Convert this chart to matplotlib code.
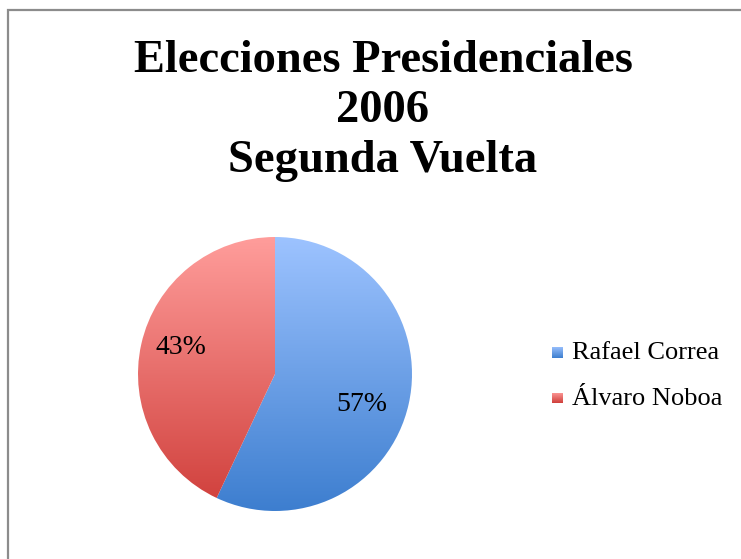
import numpy as np
import matplotlib
matplotlib.use("Agg")
import matplotlib.pyplot as plt
from matplotlib.colors import LinearSegmentedColormap
from matplotlib.patches import Rectangle

title = "Elecciones Presidenciales\n2006\nSegunda Vuelta"
labels = ["Rafael Correa", "Álvaro Noboa"]
shares = [57, 43]
top_colors = ["#9dc3ff", "#ff9d9b"]
bottom_colors = ["#3d7ecf", "#cf3e3a"]

W, H = 741, 559
plt.rcParams['font.family'] = ['Liberation Serif', 'DejaVu Serif']

fig = plt.figure(figsize=(W / 100, H / 100), dpi=100)
fig.patch.set_facecolor('white')

# chart frame (runs off the right and bottom edges)
fig.add_artist(Rectangle((8 / W, -0.1), 1.2, (H - 10) / H + 0.1, transform=fig.transFigure,
                         fill=False, edgecolor='#8c8c8c', linewidth=1.6))

fig.text(383 / W, 1 - 111 / H, title, ha='center', va='center', fontsize=33.5,
         fontweight='bold', linespacing=1.24)

# pie axes: centre (275, 374), radius 137 px
r = 137
ax = fig.add_axes([(275 - r) / W, (H - 374 - r) / H, 2 * r / W, 2 * r / H])

wedges, texts, autotexts = ax.pie(shares, startangle=90, counterclock=False, radius=1,
                                  autopct='%1.0f%%', pctdistance=0.7,
                                  textprops=dict(fontsize=20, color='black'))
ax.set_xlim(-1, 1)
ax.set_ylim(-1, 1)
ax.set_aspect('equal')
ax.axis('off')

# nudge labels the way Excel's best-fit placed them
for t, dang, dist in zip(autotexts, [-7, -3], [0.67, 0.71]):
    x, y = t.get_position()
    ang = np.arctan2(y, x) + np.radians(dang)
    t.set_position((dist * np.cos(ang), dist * np.sin(ang)))
    t.set_zorder(3)

grad = np.linspace(0, 1, 256).reshape(-1, 1)
for w, c0, c1 in zip(wedges, top_colors, bottom_colors):
    w.set_facecolor('none')
    w.set_edgecolor('none')
    cmap = LinearSegmentedColormap.from_list('g', [c0, c1])
    im = ax.imshow(grad, cmap=cmap, extent=[-1, 1, -1, 1], origin='upper',
                   aspect='auto', zorder=0.5)
    im.set_clip_path(w)

# legend
for i, (lab, c0, c1) in enumerate(zip(labels, top_colors, bottom_colors)):
    y = 352 + i * 46
    lax = fig.add_axes([552 / W, 1 - (y + 5.5) / H, 11 / W, 11 / H])
    cmap = LinearSegmentedColormap.from_list('g', [c0, c1])
    lax.imshow(grad, cmap=cmap, aspect='auto')
    lax.axis('off')
    fig.text(572 / W, 1 - (y + 1) / H, lab, ha='left', va='center', fontsize=19)

fig.savefig('out.png', dpi=100)
